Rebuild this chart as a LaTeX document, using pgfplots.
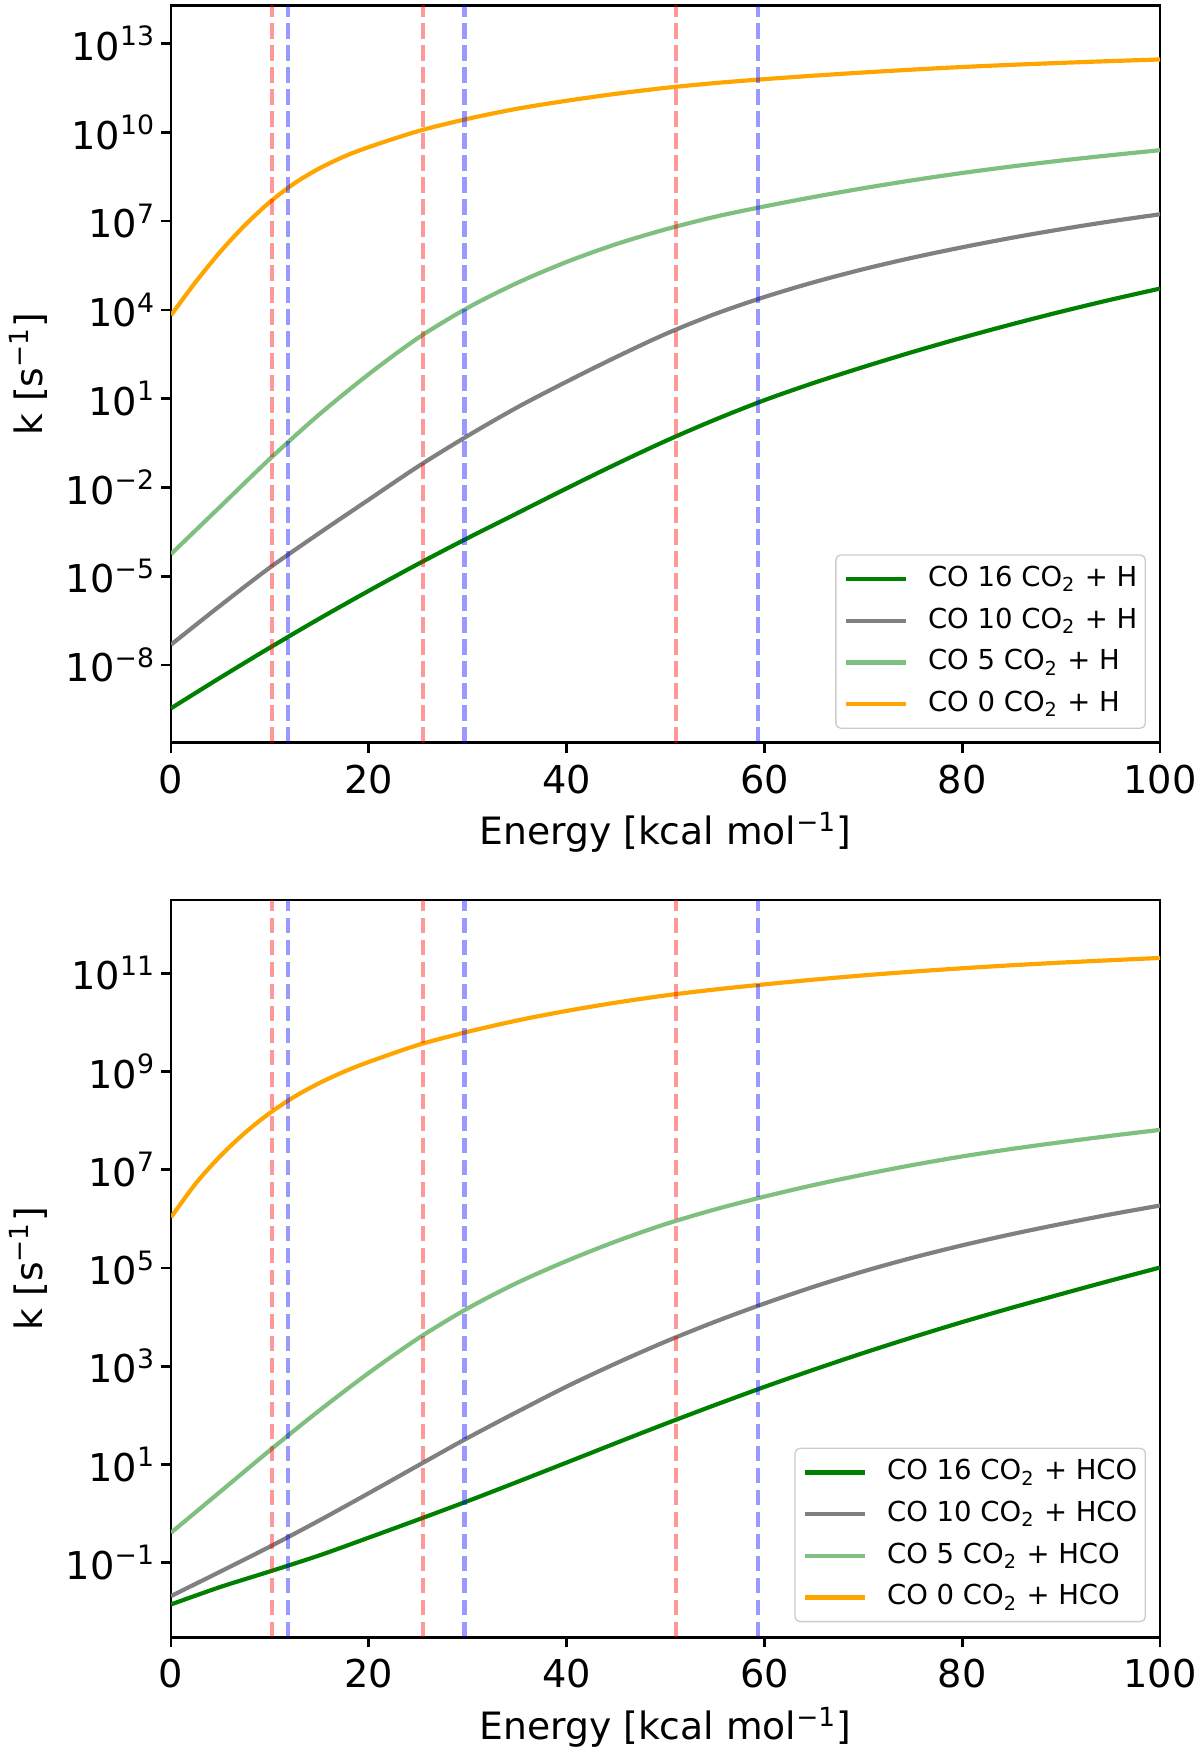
\documentclass[border=0pt]{standalone}
\usepackage{fontspec}
\setmainfont{DejaVu Sans}
\usepackage{pgfplots}
\pgfplotsset{compat=1.18}

\definecolor{mgreen}{RGB}{0,128,0}
\definecolor{mgray}{RGB}{128,128,128}
\definecolor{mlgreen}{RGB}{127,191,127}
\definecolor{morange}{RGB}{255,165,0}

\newcommand{\tp}[1]{10\raisebox{4.3pt}{\fontsize{8}{8}\selectfont #1}}

\pgfplotsset{
  legend image code/.code={\draw[#1] (0pt,0pt) -- (18pt,0pt);},
  every axis/.append style={
  width=296.7pt, height=221.2pt, scale only axis,
  xmin=0, xmax=100,
  xtick={0,20,40,60,80,100}, xticklabels={0,20,40,60,80,100},
  xminorticks=false, yminorticks=false,
  axis line style={line width=0.8pt},
  tick align=outside, major tick length=3pt,
  every tick/.style={black, line width=0.8pt},
  tick pos=left,
  tick label style={font=\fontsize{11.5}{12}\selectfont},
  xticklabel style={anchor=north, inner sep=0pt, yshift=-3.4pt},
  yticklabel style={anchor=east, inner sep=0pt, xshift=-1.9pt},
  label style={font=\fontsize{11.3}{13}\selectfont},
  xlabel style={at={(axis description cs:0.5,-0.1388)}, anchor=base},
  ylabel style={at={(axis description cs:-0.1304,0.5)}, anchor=base},
  legend cell align=left,
  legend style={anchor=south east, draw=black!20, line width=0.4pt,
    rounded corners=1.5pt, fill=white,
    font=\fontsize{8.25}{10}\selectfont,
    inner xsep=2.4pt, inner ysep=1pt, row sep=0pt,
    nodes={inner ysep=1.7pt, inner xsep=0pt, text height=6.8pt, text depth=2.3pt},
    /tikz/every odd column/.append style={column sep=6pt}},
  },
  every axis plot/.append style={line width=1.25pt, smooth, tension=0.5},
}
\tikzset{
 vred/.style={red, opacity=0.4, line width=1.3pt, dash pattern=on 4.6pt off 2pt, sharp plot},
 vblue/.style={blue, opacity=0.4, line width=1.3pt, dash pattern=on 4.6pt off 2pt, sharp plot},
}

\begin{document}
\begin{tikzpicture}
\path[use as bounding box] (-51.3pt,1.59pt) rectangle (308.7pt,-524.6pt);

% ---------------- top panel: + H ----------------
\begin{axis}[ymode=log, at={(0pt,0pt)}, anchor=north west,
  xlabel={Energy [kcal mol\textsuperscript{−1}]},
  ylabel={k [s\textsuperscript{−1}]},
  ymin=2.399e-11, ymax=1.950e14,
  ytick={1e-8,1e-5,1e-2,1e1,1e4,1e7,1e10,1e13},
  yticklabels={\tp{−8},\tp{−5},\tp{−2},\tp{1},\tp{4},\tp{7},\tp{10},\tp{13}},
  legend style={at={(axis description cs:0.9858,0.0186)}}]
\addplot[mgreen] coordinates {
 (0,3.467e-10) (5,3.802e-9) (10,3.890e-8) (15,3.715e-7) (20,3.236e-6)
 (25,2.630e-5) (30,1.950e-4) (35,1.349e-3) (40,9.333e-3) (45,6.152e-2)
 (50,3.715e-1) (55,1.950) (60,8.913) (65,3.420e1) (70,1.175e2)
 (75,3.802e2) (80,1.148e3) (85,3.258e3) (90,8.710e3) (95,2.203e4) (100,5.248e4)};
\addlegendentry{CO 16 CO\textsubscript{2} + H}
\addplot[mgray] coordinates {
 (0,4.898e-8) (5,1.035e-6) (10,1.972e-5) (15,2.884e-4) (20,3.890e-3)
 (25,5.188e-2) (30,5.559e-1) (35,5.070) (40,3.758e1) (45,2.541e2)
 (50,1.531e3) (55,7.244e3) (60,2.723e4) (65,8.610e4) (70,2.371e5)
 (75,5.821e5) (80,1.303e6) (85,2.723e6) (90,5.309e6) (95,9.772e6) (100,1.698e7)};
\addlegendentry{CO 10 CO\textsubscript{2} + H}
\addplot[mlgreen] coordinates {
 (0,5.623e-5) (5,2.291e-3) (10,9.333e-2) (15,2.951) (20,6.761e1)
 (25,1.135e3) (30,1.175e4) (35,8.128e4) (40,4.169e5) (45,1.660e6)
 (50,5.248e6) (55,1.396e7) (60,3.126e7) (65,6.531e7) (70,1.288e8)
 (75,2.399e8) (80,4.217e8) (85,6.998e8) (90,1.109e9) (95,1.679e9) (100,2.483e9)};
\addlegendentry{CO 5 CO\textsubscript{2} + H}
\addplot[morange] coordinates {
 (0,6.607e3) (2.5,8.810e4) (5,9.333e5) (7.5,7.413e6) (10,4.416e7)
 (12.5,1.905e8) (15,6.026e8) (17.5,1.514e9) (20,3.162e9) (25,1.096e10)
 (30,2.851e10) (35,6.237e10) (40,1.161e11) (45,1.995e11) (50,3.162e11)
 (55,4.597e11) (60,6.237e11) (65,8.175e11) (70,1.047e12) (75,1.311e12)
 (80,1.603e12) (85,1.901e12) (90,2.213e12) (95,2.541e12) (100,2.884e12)};
\addlegendentry{CO 0 CO\textsubscript{2} + H}
\addplot[vred, forget plot] coordinates {(10.18,2.399e-11) (10.18,1.950e14)};
\addplot[vred, forget plot] coordinates {(25.5,2.399e-11) (25.5,1.950e14)};
\addplot[vred, forget plot] coordinates {(51.06,2.399e-11) (51.06,1.950e14)};
\addplot[vblue, forget plot] coordinates {(11.86,2.399e-11) (11.86,1.950e14)};
\addplot[vblue, forget plot] coordinates {(29.66,2.399e-11) (29.66,1.950e14)};
\addplot[vblue, forget plot] coordinates {(59.32,2.399e-11) (59.32,1.950e14)};
\end{axis}

% ---------------- bottom panel: + HCO ----------------
\begin{axis}[ymode=log, at={(0pt,-268.4pt)}, anchor=north west,
  xlabel={Energy [kcal mol\textsuperscript{−1}]},
  ylabel={k [s\textsuperscript{−1}]},
  ymin=3.020e-3, ymax=3.090e12,
  ytick={1e-1,1e1,1e3,1e5,1e7,1e9,1e11},
  yticklabels={\tp{−1},\tp{1},\tp{3},\tp{5},\tp{7},\tp{9},\tp{11}},
  legend style={at={(axis description cs:0.9858,0.0204)}}]
\addplot[mgreen] coordinates {
 (0,1.413e-2) (5,3.206e-2) (10,6.637e-2) (15,1.406e-1) (20,3.236e-1)
 (25,7.551e-1) (30,1.791) (35,4.395) (40,1.091e1) (45,2.729e1)
 (50,6.730e1) (55,1.618e2) (60,3.784e2) (65,8.511e2) (70,1.854e3)
 (75,3.890e3) (80,7.907e3) (85,1.545e4) (90,2.938e4) (95,5.521e4) (100,1.019e5)};
\addlegendentry{CO 16 CO\textsubscript{2} + HCO}
\addplot[mgray] coordinates {
 (0,2.089e-2) (5,6.607e-2) (10,2.123e-1) (15,7.244e-1) (20,2.600)
 (25,9.550) (30,3.467e1) (35,1.175e2) (40,3.846e2) (45,1.143e3)
 (50,3.162e3) (55,8.017e3) (60,1.884e4) (65,4.150e4) (70,8.511e4)
 (75,1.618e5) (80,2.884e5) (85,4.864e5) (90,7.852e5) (95,1.230e6) (100,1.862e6)};
\addlegendentry{CO 10 CO\textsubscript{2} + HCO}
\addplot[mlgreen] coordinates {
 (0,4.074e-1) (5,2.805) (10,1.941e1) (15,1.253e2) (20,7.295e2)
 (25,3.690e3) (30,1.503e4) (35,4.977e4) (40,1.387e5) (45,3.475e5)
 (50,7.798e5) (55,1.552e6) (60,2.831e6) (65,4.875e6) (70,7.943e6)
 (75,1.245e7) (80,1.862e7) (85,2.645e7) (90,3.631e7) (95,4.887e7) (100,6.457e7)};
\addlegendentry{CO 5 CO\textsubscript{2} + HCO}
\addplot[morange] coordinates {
 (0,1.072e6) (2.5,5.224e6) (5,1.905e7) (7.5,5.689e7) (10,1.429e8)
 (12.5,3.076e8) (15,5.794e8) (17.5,9.886e8) (20,1.560e9) (25,3.467e9)
 (30,6.412e9) (35,1.089e10) (40,1.706e10) (45,2.518e10) (50,3.524e10)
 (55,4.656e10) (60,5.916e10) (65,7.388e10) (70,9.016e10) (75,1.076e11)
 (80,1.259e11) (85,1.449e11) (90,1.641e11) (95,1.837e11) (100,2.042e11)};
\addlegendentry{CO 0 CO\textsubscript{2} + HCO}
\addplot[vred, forget plot] coordinates {(10.18,3.020e-3) (10.18,3.090e12)};
\addplot[vred, forget plot] coordinates {(25.5,3.020e-3) (25.5,3.090e12)};
\addplot[vred, forget plot] coordinates {(51.06,3.020e-3) (51.06,3.090e12)};
\addplot[vblue, forget plot] coordinates {(11.86,3.020e-3) (11.86,3.090e12)};
\addplot[vblue, forget plot] coordinates {(29.66,3.020e-3) (29.66,3.090e12)};
\addplot[vblue, forget plot] coordinates {(59.32,3.020e-3) (59.32,3.090e12)};
\end{axis}
\end{tikzpicture}
\end{document}
